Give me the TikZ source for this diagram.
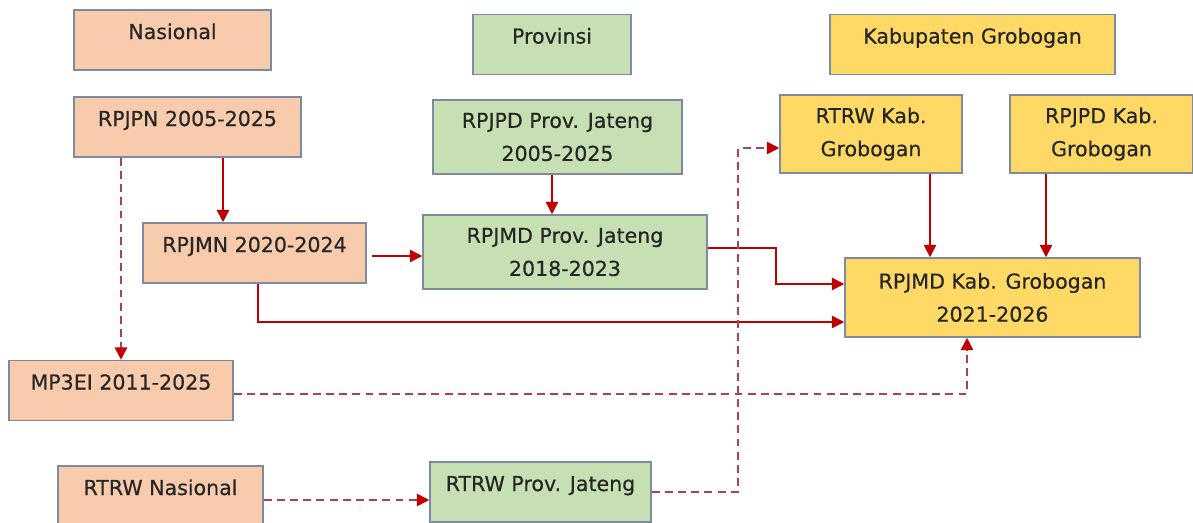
\documentclass[tikz,border=0pt]{standalone}
\usepackage{fontspec}
\setmainfont{DejaVu Sans}
\newfontfamily\boxfont[FakeBold=0.5]{DejaVu Sans}
\usepackage{tikz}
\usetikzlibrary{arrows.meta,calc}
\definecolor{natfill}{RGB}{248,203,173}
\definecolor{prvfill}{RGB}{198,224,180}
\definecolor{kabfill}{RGB}{255,217,102}
\definecolor{boxline}{RGB}{125,138,160}
\definecolor{arrred}{RGB}{192,0,0}
\definecolor{dashred}{RGB}{172,64,86}
\tikzset{
  bx/.style={rectangle,draw=boxline,line width=0.9pt,align=center,text=black!85,font=\boxfont\fontsize{11.7}{18.8}\selectfont},
  one/.style={bx,inner ysep=0pt,text height=0.58cm,text depth=0.62cm,minimum height=1.2cm},
  two/.style={bx,minimum height=#1},
  nat/.style={fill=natfill},
  prv/.style={fill=prvfill},
  kab/.style={fill=kabfill},
  arr/.style={-{Triangle[length=7pt,width=7pt]},draw=arrred,line width=0.9pt},
  darr/.style={-{Triangle[length=7pt,width=7pt,color=arrred]},draw=dashred,line width=1pt,dash pattern=on 4.5pt off 3pt},
}
\begin{document}
\begin{tikzpicture}[x=0.02cm,y=-0.02cm]
  \clip (0,0) rectangle (1193,522);
  \fill[white] (0,0) rectangle (1193,522);
  % national level
  \node[one,nat,minimum width=3.94cm] (nas) at (172.5,40) {Nasional};
  \node[one,nat,minimum width=4.54cm] (rpjpn) at (187.5,127) {RPJPN 2005-2025};
  \node[one,nat,minimum width=4.46cm] (rpjmn) at (254.5,253) {RPJMN 2020-2024};
  \node[one,nat,minimum width=4.48cm] (mp3ei) at (121,390.5) {MP3EI 2011-2025};
  \node[one,nat,minimum width=4.1cm] (rtrwnas) at (160.5,496) {RTRW Nasional};
  % province level
  \node[one,prv,minimum width=3.16cm] (prov) at (552,44.5) {Provinsi};
  \node[two=1.48cm,prv,minimum width=4.98cm] (rpjpdprov) at (557.5,137) {RPJPD Prov. Jateng\\2005-2025};
  \node[two=1.48cm,prv,minimum width=5.68cm] (rpjmdprov) at (565,252) {RPJMD Prov. Jateng\\2018-2023};
  \node[one,prv,minimum width=4.42cm] (rtrwprov) at (540.5,492) {RTRW Prov. Jateng};
  % regency level
  \node[one,kab,minimum width=5.7cm] (kabgrb) at (972.5,44.5) {Kabupaten Grobogan};
  \node[two=1.56cm,kab,minimum width=3.64cm] (rtrwkab) at (871,134) {RTRW Kab.\\Grobogan};
  \node[two=1.56cm,kab,minimum width=3.66cm] (rpjpdkab) at (1101.5,134) {RPJPD Kab.\\Grobogan};
  \node[two=1.58cm,kab,minimum width=5.9cm] (rpjmdkab) at (992.5,297.5) {RPJMD Kab. Grobogan\\2021-2026};
  \coordinate (bend) at (738,148);
  % connectors
  \draw[arr] (rpjpn.south -| 223,0) -- (rpjmn.north -| 223,0);
  \draw[darr] (rpjpn.south -| mp3ei.north) -- (mp3ei.north);
  \draw[arr,shorten <=3pt] (rpjmn.east |- 0,256) -- (rpjmdprov.west |- 0,256);
  \draw[arr] (rpjpdprov.south -| 552,0) -- (rpjmdprov.north -| 552,0);
  \draw[arr] (rpjmdprov.east |- 0,248) -- (776,248) |- (rpjmdkab.west |- 0,284);
  \draw[arr] (rpjmn.south -| 258,0) |- (rpjmdkab.west |- 0,322);
  \draw[darr] (mp3ei.east |- 0,394) -| (rpjmdkab.south -| 967,0);
  \draw[darr] (rtrwnas.east |- 0,500) -- (rtrwprov.west |- 0,500);
  \draw[darr] (rtrwprov.east) -| (bend) -- (rtrwkab.west |- bend);
  \draw[arr] (rtrwkab.south -| 930,0) -- (rpjmdkab.north -| 930,0);
  \draw[arr] (rpjpdkab.south -| 1046,0) -- (rpjmdkab.north -| 1046,0);
\end{tikzpicture}
\end{document}
